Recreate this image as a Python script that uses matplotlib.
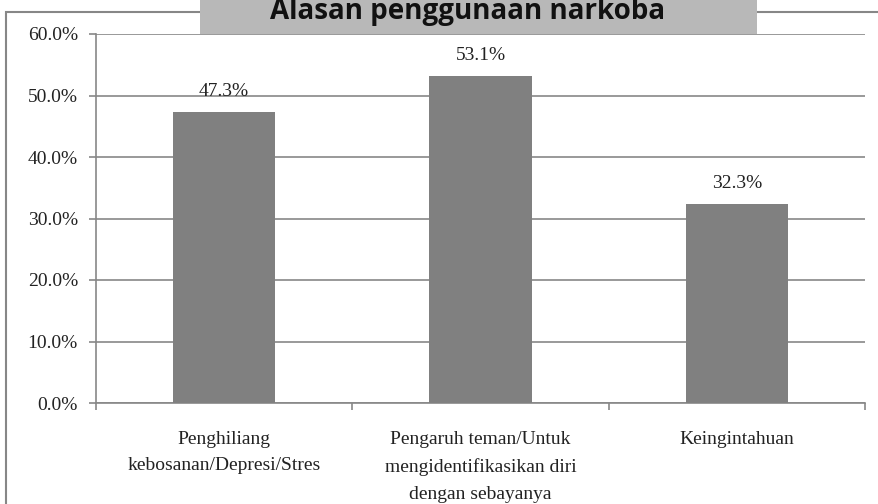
import matplotlib.pyplot as plt
import matplotlib.patches as patches
from matplotlib.ticker import PercentFormatter

# data
categories = ['Penghiliang\nkebosanan/Depresi/Stres',
              'Pengaruh teman/Untuk\nmengidentifikasikan diri\ndengan sebayanya',
              'Keingintahuan']
values = [47.3, 53.1, 32.3]
title = 'Alasan penggunaan narkoba'

grey = '#878787'
plt.rcParams['font.family'] = ['Liberation Serif', 'DejaVu Serif']

fig = plt.figure(figsize=(8.79, 5.04), dpi=100)
ax = fig.add_axes([96/879, 1 - 403/504, (865 - 96)/879, (403 - 34)/504])

x = range(len(values))
bars = ax.bar(x, [v / 100 for v in values], width=0.4, color='#808080', zorder=3)
for b, v in zip(bars, values):
    ax.annotate(f'{v:.1f}%', (b.get_x() + b.get_width() / 2, b.get_height()),
                xytext=(0, 9), textcoords='offset points', ha='center', va='bottom',
                fontsize=14, color='#222222')

ax.set_ylim(0, 0.6)
ax.set_xlim(-0.5, 2.5)
ax.yaxis.set_major_formatter(PercentFormatter(1.0, decimals=1))
ax.set_yticks([i / 10 for i in range(7)])
ax.grid(axis='y', color=grey, linewidth=1.2, zorder=0)
ax.tick_params(axis='y', length=5, color=grey, width=1.2, labelsize=14, pad=8, labelcolor='#222222')

# categories between ticks at boundaries
ax.set_xticks([-0.5, 0.5, 1.5, 2.5])
ax.set_xticklabels([])
ax.tick_params(axis='x', length=5, color=grey, width=1.2)
for i, c in enumerate(categories):
    ax.text(i, -0.045, c, ha='center', va='top', fontsize=14, linespacing=1.75,
            color='#222222', clip_on=False)

for s in ['top', 'right']:
    ax.spines[s].set_visible(False)
for s in ['left', 'bottom']:
    ax.spines[s].set_color(grey)
    ax.spines[s].set_linewidth(1.2)

# outer frame of the chart area
fig.add_artist(patches.Rectangle((6/879, -0.1), 1.0, 1 - 12/504 + 0.1,
                                 transform=fig.transFigure, fill=False,
                                 edgecolor=grey, linewidth=1.5))
# title box
fig.add_artist(patches.Rectangle((200/879, 1 - 34/504), (757 - 200)/879, 34/504 + 0.01,
                                 transform=fig.transFigure, facecolor='#b8b8b8',
                                 edgecolor='none'))
fig.text(468/879, 1 - 19/504, title, ha='center', va='baseline', fontsize=20,
         fontweight='bold', family=['Open Sans', 'DejaVu Sans'], color='#111111')

fig.savefig('out.png', dpi=100)
